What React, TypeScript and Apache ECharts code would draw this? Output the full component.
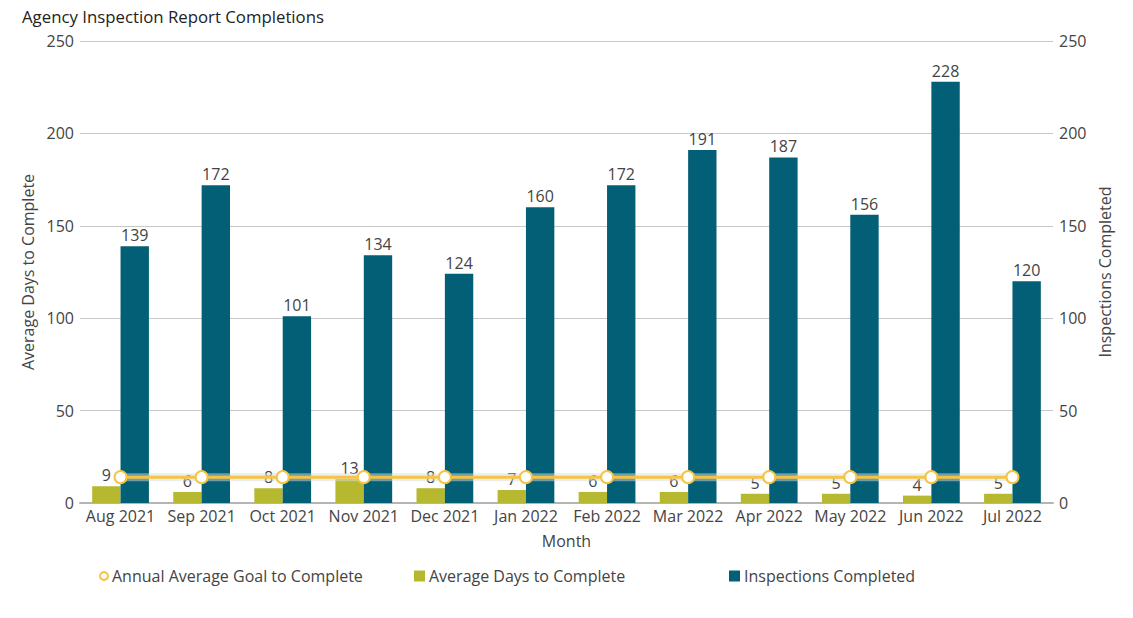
import React, { useEffect, useRef } from "react";
import * as echarts from "echarts";

const months = ["Aug 2021", "Sep 2021", "Oct 2021", "Nov 2021", "Dec 2021", "Jan 2022", "Feb 2022", "Mar 2022", "Apr 2022", "May 2022", "Jun 2022", "Jul 2022"];
const avgDays = [9, 6, 8, 13, 8, 7, 6, 6, 5, 5, 4, 5];
const inspections = [139, 172, 101, 134, 124, 160, 172, 191, 187, 156, 228, 120];
const goal = [14, 14, 14, 14, 14, 14, 14, 14, 14, 14, 14, 14];
const yTicks = [0, 50, 100, 150, 200, 250];

const FONT = "'Open Sans', 'Noto Sans', sans-serif";
const TXT = "#444444";
const GREEN = "#b6b92f";
const TEAL = "#035f75";
const YELLOW = "#f6c343";
const FS = 16;

export default function App() {
  const ref = useRef<HTMLDivElement>(null);
  useEffect(() => {
    if (!ref.current) return;
    const chart = echarts.init(ref.current, undefined, { renderer: "svg" });
    const yAxisBase = {
      type: "value",
      min: yTicks[0],
      max: yTicks[yTicks.length - 1],
      interval: 50,
      axisLine: { show: false },
      axisTick: { show: false },
      nameLocation: "middle",
      nameTextStyle: { fontFamily: FONT, fontSize: FS, color: TXT },
      axisLabel: { fontFamily: FONT, fontSize: FS, color: TXT, margin: 6 },
    };
    const legendText = { fontFamily: FONT, fontSize: FS, color: TXT, padding: [0, 0, 0, -1] };
    chart.setOption({
      animation: false,
      textStyle: { fontFamily: FONT },
      title: {
        text: "Agency Inspection Report Completions",
        left: 17,
        top: 3,
        textStyle: { fontFamily: FONT, fontSize: 16.8, fontWeight: "normal", color: "#222" },
      },
      legend: [
        {
          data: [{
            name: "Annual Average Goal to Complete",
            icon: "circle",
            itemStyle: { color: "#ffffff", borderColor: YELLOW, borderWidth: 2 },
          }],
          left: 94, top: 563, itemWidth: 8, itemHeight: 8, itemGap: 4,
          textStyle: legendText,
        },
        {
          data: [{ name: "Average Days to Complete", icon: "rect" }],
          left: 409, top: 563, itemWidth: 11, itemHeight: 11,
          textStyle: legendText,
        },
        {
          data: [{ name: "Inspections Completed", icon: "rect" }],
          left: 724, top: 563, itemWidth: 11, itemHeight: 11,
          textStyle: legendText,
        },
      ],
      grid: { left: 80, right: 80, top: 41, bottom: 115, containLabel: false },
      xAxis: {
        type: "category",
        data: months,
        name: "Month",
        nameLocation: "middle",
        nameGap: 30,
        nameTextStyle: { fontFamily: FONT, fontSize: FS, color: TXT },
        axisLine: { lineStyle: { color: "#b5b5b5", width: 2 } },
        axisTick: { show: false },
        axisLabel: { fontFamily: FONT, fontSize: FS, color: TXT, margin: 5, interval: 0 },
      },
      yAxis: [
        {
          ...yAxisBase,
          name: "Average Days to Complete",
          nameGap: 28,
          splitLine: { lineStyle: { color: "#c8c8c8", width: 1 } },
        },
        {
          ...yAxisBase,
          name: "Inspections Completed",
          nameGap: 41,
          splitLine: { show: false },
        },
      ],
      series: [
        {
          name: "Average Days to Complete",
          type: "bar",
          yAxisIndex: 0,
          data: avgDays,
          barGap: "0%",
          barCategoryGap: "30%",
          itemStyle: { color: GREEN },
          label: { show: true, position: "top", distance: 3, fontFamily: FONT, fontSize: FS, color: TXT },
        },
        {
          name: "Inspections Completed",
          type: "bar",
          yAxisIndex: 1,
          data: inspections,
          itemStyle: { color: TEAL },
          label: { show: true, position: "top", distance: 3, fontFamily: FONT, fontSize: FS, color: TXT },
        },
        {
          name: "goal-halo",
          type: "line",
          yAxisIndex: 0,
          data: goal,
          symbol: "none",
          silent: true,
          lineStyle: { color: "rgba(215,222,222,0.5)", width: 8 },
          z: 3,
        },
        {
          name: "Annual Average Goal to Complete",
          type: "line",
          yAxisIndex: 0,
          data: goal,
          symbol: "circle",
          symbolSize: 12,
          itemStyle: { color: "#ffffff", borderColor: YELLOW, borderWidth: 2 },
          lineStyle: { color: YELLOW, width: 3 },
          z: 4,
        },
      ],
    });
    return () => chart.dispose();
  }, []);
  return <div ref={ref} style={{ width: 1133, height: 618, margin: -8 }} />;
}
